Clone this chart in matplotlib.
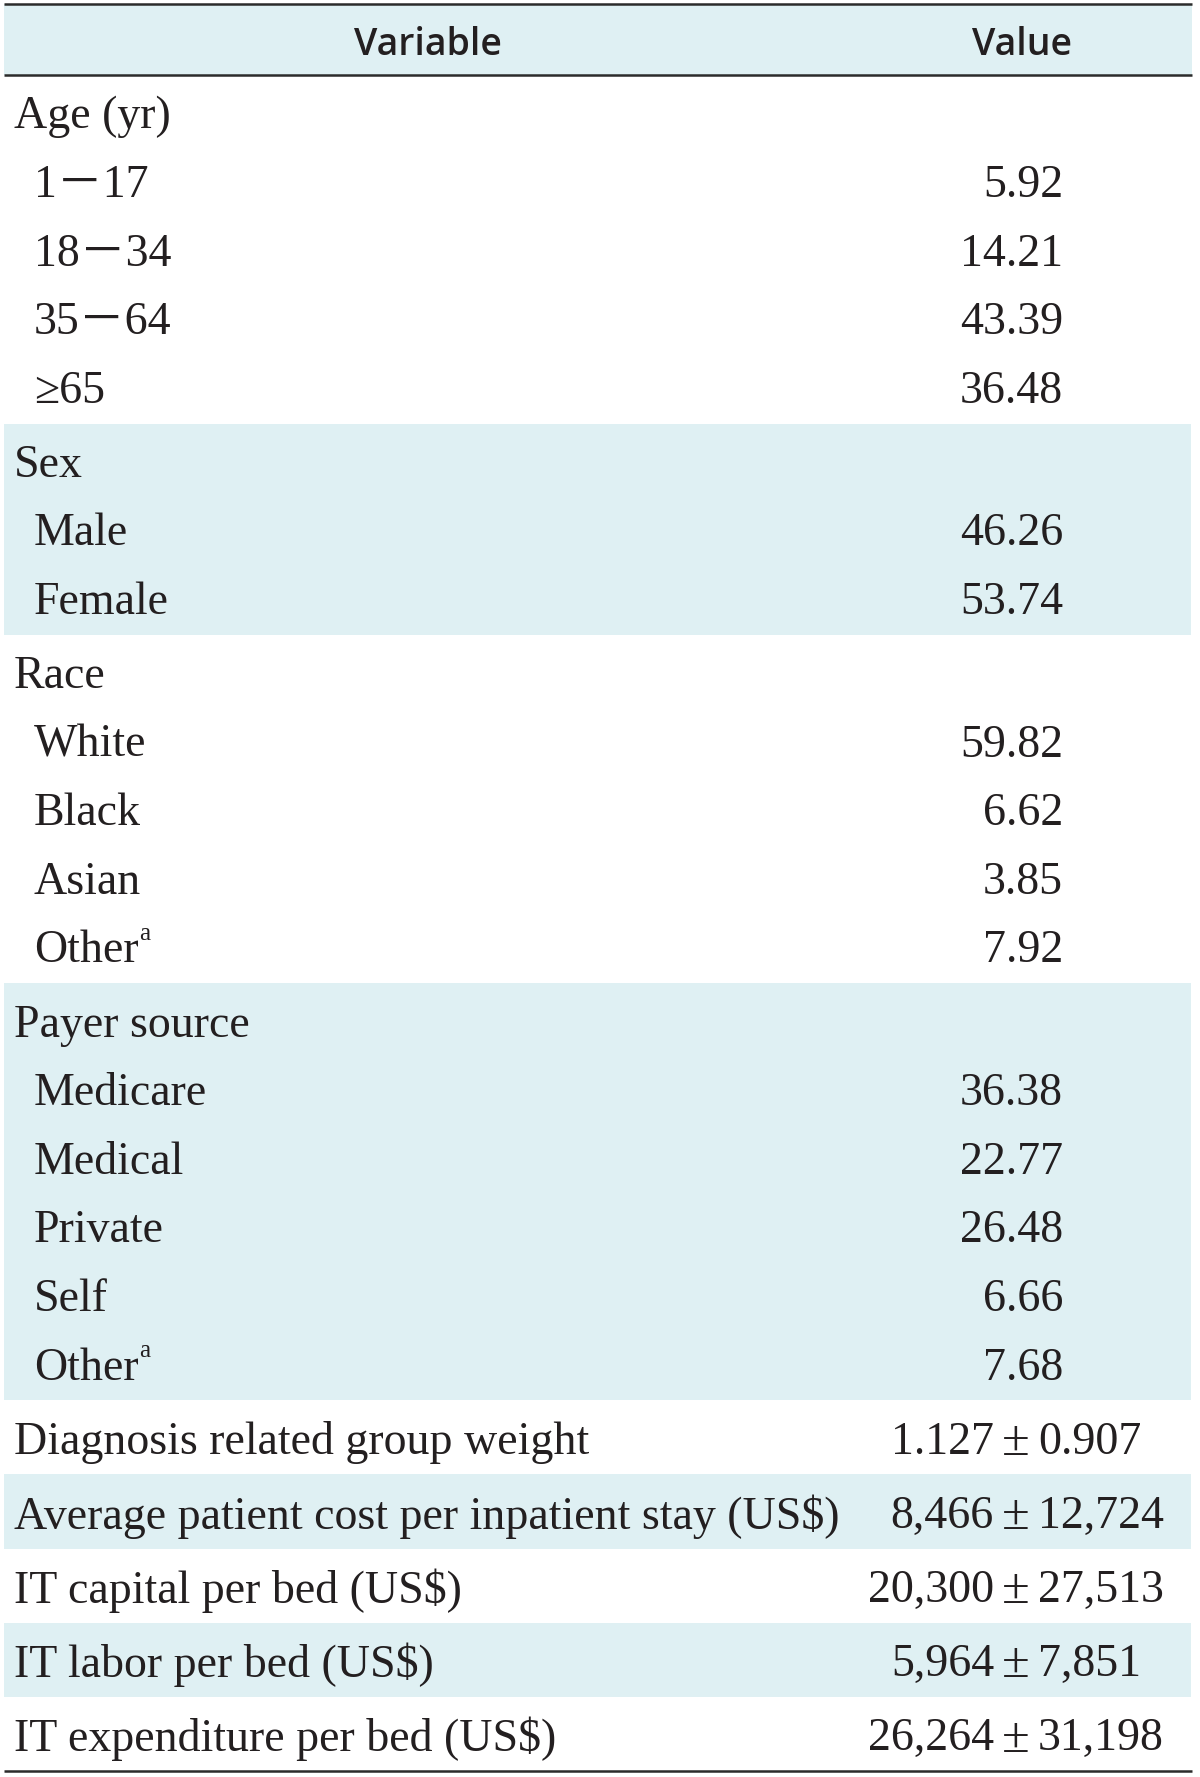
import matplotlib
matplotlib.use("Agg")
import matplotlib.pyplot as plt
from matplotlib.patches import Rectangle

# ---------------- data ----------------
header_labels = ["Variable", "Value"]

age_title = "Age (yr)"
age_labels = ["1－17", "18－34", "35－64", "≥65"]
age_values = [5.92, 14.21, 43.39, 36.48]

sex_title = "Sex"
sex_labels = ["Male", "Female"]
sex_values = [46.26, 53.74]

race_title = "Race"
race_labels = ["White", "Black", "Asian", "Other"]
race_values = [59.82, 6.62, 3.85, 7.92]
race_sup = [False, False, False, True]

payer_title = "Payer source"
payer_labels = ["Medicare", "Medical", "Private", "Self", "Other"]
payer_values = [36.38, 22.77, 26.48, 6.66, 7.68]
payer_sup = [False, False, False, False, True]

cont_labels = ["Diagnosis related group weight",
               "Average patient cost per inpatient stay (US$)",
               "IT capital per bed (US$)",
               "IT labor per bed (US$)",
               "IT expenditure per bed (US$)"]
cont_means = [1.127, 8466, 20300, 5964, 26264]
cont_sds = [0.907, 12724, 27513, 7851, 31198]
cont_decimals = [3, 0, 0, 0, 0]

# ---------------- style / layout ----------------
W, H = 1200, 1777
FILL = "#dff0f3"
LINE = "#2b2b2b"
TXT = "#231f20"
SERIF = ["Liberation Serif", "Noto Sans CJK KR", "DejaVu Serif"]
HEAD = ["Liberation Sans Narrow", "Open Sans", "DejaVu Sans"]
FS = 33
PITCH = 68.6
BLOCK_PAD = 5.5
X_LEFT, X_RIGHT = 4, 1192
X_GROUP, X_ITEM = 14, 34
X_PCT_RIGHT = 1063
X_PM = 1016
PM_GAP = 22

fig = plt.figure(figsize=(W / 100, H / 100), dpi=100)
ax = fig.add_axes([0, 0, 1, 1])
ax.set_xlim(0, W)
ax.set_ylim(H, 0)
ax.axis("off")

# header
header_top, header_bottom = 3.5, 75
ax.add_patch(Rectangle((X_LEFT, header_top), X_RIGHT - X_LEFT, header_bottom - header_top,
                       facecolor=FILL, edgecolor="none", zorder=0))
hy = (header_top + header_bottom) / 2 + 1
ax.text(428, hy, header_labels[0], ha="center", va="center_baseline",
        fontsize=27, family=HEAD, weight="semibold", color=TXT)
ax.text(1022, hy, header_labels[1], ha="center", va="center_baseline",
        fontsize=27, family=HEAD, weight="semibold", color=TXT)

renderer = fig.canvas.get_renderer()


def put_label(x, y, s, sup=False):
    t = ax.text(x, y, s, ha="left", va="center_baseline", fontsize=FS,
                family=SERIF, color=TXT)
    if sup:
        bb = t.get_window_extent(renderer=renderer)
        inv = ax.transData.inverted()
        xr = inv.transform((bb.x1, bb.y0))[0]
        ax.text(xr + 1, y - 15, "a", ha="left", va="center_baseline",
                fontsize=FS * 0.55, family=SERIF, color=TXT)


blocks = []
blocks.append(("group", age_title, age_labels, age_values, [False] * len(age_labels)))
blocks.append(("group", sex_title, sex_labels, sex_values, [False] * len(sex_labels)))
blocks.append(("group", race_title, race_labels, race_values, race_sup))
blocks.append(("group", payer_title, payer_labels, payer_values, payer_sup))
for lab, m, s, d in zip(cont_labels, cont_means, cont_sds, cont_decimals):
    blocks.append(("single", lab, m, s, d))

y = header_bottom
for bi, blk in enumerate(blocks):
    nrows = 1 + len(blk[2]) if blk[0] == "group" else 1
    height = nrows * PITCH + BLOCK_PAD
    if bi % 2 == 1:
        ax.add_patch(Rectangle((X_LEFT, y), X_RIGHT - X_LEFT - 1, height,
                               facecolor=FILL, edgecolor="none", zorder=0))
    row_y = [y + BLOCK_PAD / 2 + PITCH * (i + 0.5) for i in range(nrows)]
    if blk[0] == "group":
        _, title, labels, values, sups = blk
        put_label(X_GROUP, row_y[0], title)
        for i, (lab, val, sp) in enumerate(zip(labels, values, sups)):
            put_label(X_ITEM, row_y[i + 1], lab, sp)
            ax.text(X_PCT_RIGHT, row_y[i + 1], f"{val:.2f}", ha="right",
                    va="center_baseline", fontsize=FS, family=SERIF, color=TXT)
    else:
        _, lab, m, s, d = blk
        put_label(X_GROUP, row_y[0], lab)
        if d > 0:
            ms, ss = f"{m:.{d}f}", f"{s:.{d}f}"
        else:
            ms, ss = f"{m:,.0f}", f"{s:,.0f}"
        ax.text(X_PM - PM_GAP, row_y[0], ms, ha="right", va="center_baseline",
                fontsize=FS, family=SERIF, color=TXT)
        ax.text(X_PM, row_y[0], "±", ha="center", va="center_baseline",
                fontsize=FS * 1.1, family=SERIF, color=TXT)
        ax.text(X_PM + PM_GAP, row_y[0], ss, ha="left", va="center_baseline",
                fontsize=FS, family=SERIF, color=TXT)
    y += height

# rules
for yy in (header_top, header_bottom, y):
    ax.plot([X_LEFT, X_RIGHT], [yy, yy], color=LINE, lw=1.8, solid_capstyle="butt")

fig.savefig("out.png", dpi=100, facecolor="white")
